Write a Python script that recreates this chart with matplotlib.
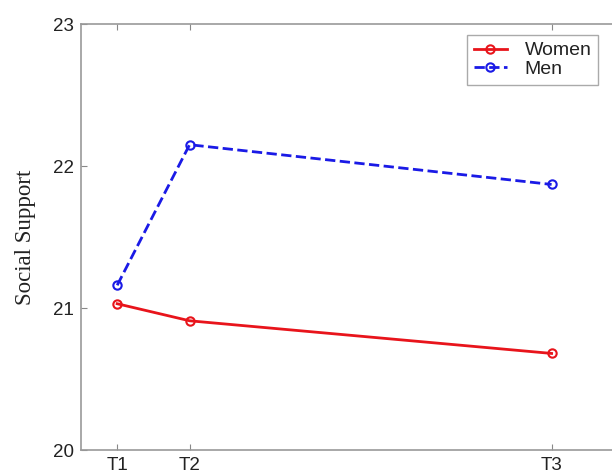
import matplotlib.pyplot as plt

# time points and group means
times = [1, 2, 7]
tick_labels = ['T1', 'T2', 'T3']
women = [21.03, 20.91, 20.68]
men = [21.16, 22.15, 21.87]

fig = plt.figure(figsize=(6.12, 4.73), dpi=100)
ax = fig.add_axes([81 / 612, 1 - 450 / 473, 543 / 612, 426 / 473])

ax.plot(times, women, 'o-', color='#e8141b', linewidth=2, markersize=6,
        markerfacecolor='none', markeredgewidth=1.5, label='Women')
ax.plot(times, men, 'o--', color='#1a1ae6', linewidth=2, markersize=6,
        markerfacecolor='none', markeredgewidth=1.5, label='Men')

ax.set_xlim(0.5, 8)
ax.set_ylim(20, 23)
ax.set_xticks(times)
ax.set_xticklabels(tick_labels)
ax.set_yticks([20, 21, 22, 23])

for lab in ax.get_xticklabels() + ax.get_yticklabels():
    lab.set_family('Liberation Sans')
    lab.set_fontsize(13.5)
    lab.set_color('#222222')

ax.tick_params(direction='in', length=4, color='#888888', top=True, right=True)
ax.tick_params(axis='y', pad=5)
ax.tick_params(axis='x', pad=5)
for side in ax.spines.values():
    side.set_color('#999999')
    side.set_linewidth(1.2)

ax.set_ylabel('Social Support', family='Liberation Serif', fontsize=16.5,
              color='#222222', labelpad=12)

leg = ax.legend(loc='upper left', bbox_to_anchor=(0.711, 0.974),
                borderaxespad=0,
                prop={'family': 'Liberation Sans', 'size': 14},
                fancybox=False, framealpha=1, edgecolor='#aaaaaa',
                handlelength=1.7, borderpad=0.35, labelspacing=0.05,
                handletextpad=0.9)
for t in leg.get_texts():
    t.set_color('#222222')

fig.savefig('out.png', dpi=100)
